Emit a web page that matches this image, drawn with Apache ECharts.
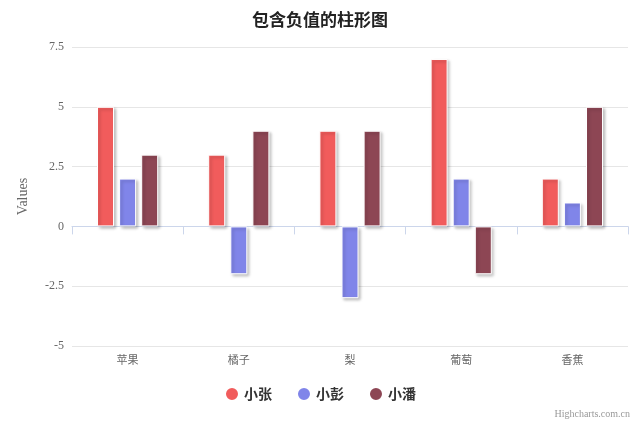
<!DOCTYPE html>
<html><head><meta charset="utf-8">
<script src="https://cdn.jsdelivr.net/npm/echarts@6/dist/echarts.min.js"></script>
<style>html,body{margin:0;padding:0;background:#fff}#c{width:640px;height:427px}</style>
</head><body><div id="c"></div>
<script>
const categories = ['苹果','橘子','梨','葡萄','香蕉'];
const seriesNames = ['小张','小彭','小潘'];
const zhang = [5,3,4,7,2];
const peng = [2,-2,-3,2,1];
const pan = [3,4,4,-2,5];
const colors = ['#f15c5c','#8085e9','#8d4654'];
const chart = echarts.init(document.getElementById('c'));
const mk = (name, data, i) => ({
  name, type:'bar', data, barWidth:17, barGap:'30%',
  itemStyle:{color:colors[i], borderColor:'#fff', borderWidth:1,
    shadowColor:'rgba(0,0,0,0.25)', shadowBlur:3, shadowOffsetX:2, shadowOffsetY:2}
});
chart.setOption({
  animation:false,
  title:{text:'包含负值的柱形图', left:'center', top:6,
    textStyle:{fontSize:17, fontWeight:'bold', color:'#222', fontFamily:'Noto Sans CJK SC'}},
  legend:{bottom:20, itemWidth:14, itemHeight:14, icon:'circle', itemGap:24,
    textStyle:{fontSize:14, color:'#333', fontWeight:'bold', fontFamily:'Noto Sans CJK SC'}},
  graphic:[{type:'text', right:10, bottom:8, style:{text:'Highcharts.com.cn', fill:'#999', fontSize:10, fontFamily:'serif'}}],
  grid:{left:72, right:12, top:47, bottom:81},
  xAxis:{type:'category', data:categories,
    axisLine:{lineStyle:{color:'#ccd6eb'}},
    axisTick:{show:true, alignWithLabel:false, lineStyle:{color:'#ccd6eb'}, length:8},
    axisLabel:{color:'#666', fontSize:11, fontFamily:'Noto Sans CJK SC', margin:8}},
  yAxis:{type:'value', min:-5, max:7.5, interval:2.5, name:'Values', nameLocation:'middle', nameGap:42,
    nameTextStyle:{color:'#666', fontSize:14, fontFamily:'Liberation Serif'},
    axisLabel:{color:'#666', fontSize:12, fontFamily:'Liberation Serif', formatter:v=>String(v)},
    splitLine:{lineStyle:{color:'#e6e6e6'}}},
  series:[mk(seriesNames[0],zhang,0), mk(seriesNames[1],peng,1), mk(seriesNames[2],pan,2)]
});
</script></body></html>
